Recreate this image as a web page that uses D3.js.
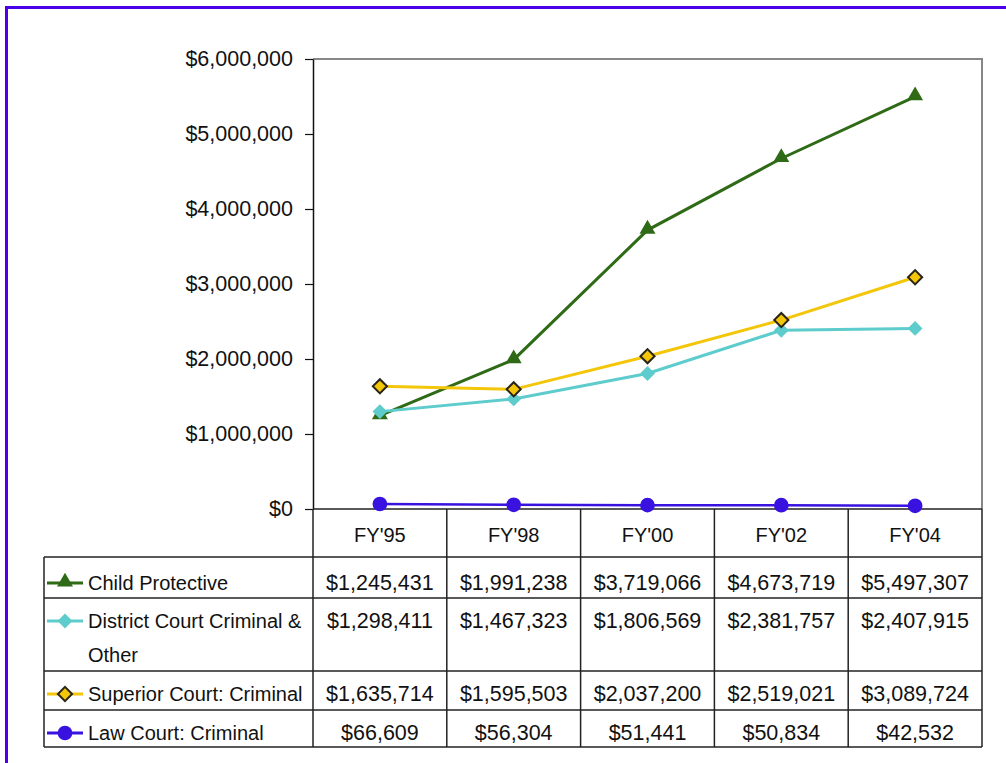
<!DOCTYPE html>
<html>
<head>
<meta charset="utf-8">
<script src="https://cdn.jsdelivr.net/npm/d3@7"></script>
<style>
  body { margin: 0; background: #fff; }
  svg { display: block; font-family: "Liberation Sans", Arial, sans-serif; }
</style>
</head>
<body>
<div id="chart"></div>
<script>
const years = ["FY'95", "FY'98", "FY'00", "FY'02", "FY'04"];
const childProtective = [1245431, 1991238, 3719066, 4673719, 5497307];
const districtCourt = [1298411, 1467323, 1806569, 2381757, 2407915];
const superiorCourt = [1635714, 1595503, 2037200, 2519021, 3089724];
const lawCourt = [66609, 56304, 51441, 50834, 42532];
const yTicks = [0, 1000000, 2000000, 3000000, 4000000, 5000000, 6000000];

const series = [
  { name: ["Child Protective"], values: childProtective, color: "#2f6a16", marker: "triangle" },
  { name: ["District Court Criminal &", "Other"], values: districtCourt, color: "#5ecccc", marker: "diamond" },
  { name: ["Superior Court: Criminal"], values: superiorCourt, color: "#f3c60a", marker: "diamondOutline" },
  { name: ["Law Court: Criminal"], values: lawCourt, color: "#3a12e0", marker: "circle" }
];

const W = 1006, H = 763;
const plot = { left: 313, right: 982, top: 59, bottom: 509 };
const tableLeft = 44;
const headerBottom = 557;
const rowBounds = [[557, 598], [598, 671], [671, 710], [710, 747]];
const numFont = "21.5px", wordFont = "20px";

const svg = d3.select("#chart").append("svg")
    .attr("width", W)
    .attr("height", H);

// purple frame (right/bottom edges fall outside the picture)
svg.append("rect")
    .attr("x", 6.5).attr("y", 7.5)
    .attr("width", W + 20).attr("height", H + 20)
    .attr("fill", "none")
    .attr("stroke", "#4a00e8")
    .attr("stroke-width", 3);

const x = d3.scaleBand()
    .domain(years)
    .range([plot.left, plot.right])
    .paddingInner(0).paddingOuter(0);

const y = d3.scaleLinear()
    .domain([0, 6000000])
    .range([plot.bottom, plot.top]);

// plot frame: grey top + right
svg.append("path")
    .attr("d", `M${plot.left},${plot.top}H${plot.right}V${plot.bottom}`)
    .attr("fill", "none")
    .attr("stroke", "#878787")
    .attr("stroke-width", 2);

// y axis
const yAxis = svg.append("g")
    .attr("transform", `translate(${plot.left},0)`)
    .call(d3.axisLeft(y)
      .tickValues(yTicks)
      .tickSize(8)
      .tickSizeOuter(0)
      .tickPadding(12)
      .tickFormat(d => d3.format("$,")(d)));
yAxis.select(".domain").attr("stroke", "#111").attr("stroke-width", 1.5);
yAxis.selectAll(".tick line").attr("stroke", "#111").attr("stroke-width", 1.2);
yAxis.selectAll(".tick text")
    .attr("fill", "#111")
    .style("font-size", numFont)
    .style("font-family", "'Liberation Sans', Arial, sans-serif");

// table grid
const grid = svg.append("g")
    .attr("stroke", "#222")
    .attr("stroke-width", 1.5)
    .attr("fill", "none");

// $0 baseline across plot
grid.append("line")
    .attr("x1", plot.left).attr("x2", plot.right)
    .attr("y1", plot.bottom).attr("y2", plot.bottom);
// row separators
[headerBottom].concat(rowBounds.map(r => r[1])).forEach(yy => {
  grid.append("line")
      .attr("x1", tableLeft).attr("x2", plot.right)
      .attr("y1", yy).attr("y2", yy);
});
// left border of legend column
grid.append("line")
    .attr("x1", tableLeft).attr("x2", tableLeft)
    .attr("y1", headerBottom).attr("y2", rowBounds[3][1]);
// column dividers
years.forEach(yr => {
  grid.append("line")
      .attr("x1", x(yr)).attr("x2", x(yr))
      .attr("y1", plot.bottom).attr("y2", rowBounds[3][1]);
});
grid.append("line")
    .attr("x1", plot.right).attr("x2", plot.right)
    .attr("y1", plot.bottom).attr("y2", rowBounds[3][1]);

// header
svg.append("g").selectAll("text")
  .data(years)
  .join("text")
    .attr("x", d => x(d) + x.bandwidth() / 2)
    .attr("y", plot.bottom + 33)
    .attr("text-anchor", "middle")
    .attr("fill", "#111")
    .style("font-size", wordFont)
    .text(d => d);

// marker drawing
const sym = {
  triangle: d3.symbol(d3.symbolTriangle, 110),
  diamond: d3.symbol(d3.symbolSquare, 110),
  diamondOutline: d3.symbol(d3.symbolSquare, 100),
  circle: d3.symbol(d3.symbolCircle, 170)
};
function drawMarker(g, s) {
  const p = g.append("path").attr("d", sym[s.marker]());
  if (s.marker === "diamondOutline") {
    p.attr("fill", s.color).attr("stroke", "#2a2418").attr("stroke-width", 2);
  } else {
    p.attr("fill", s.color);
  }
  if (s.marker === "triangle") p.attr("transform", "translate(0,-1)");
  if (s.marker.startsWith("diamond")) p.attr("transform", "rotate(45)");
  return p;
}

const line = d3.line()
    .x((d, i) => x(years[i]) + x.bandwidth() / 2)
    .y(d => y(d));

series.forEach((s, si) => {
  // series line
  svg.append("path")
      .datum(s.values)
      .attr("fill", "none")
      .attr("stroke", s.color)
      .attr("stroke-width", s.marker === "circle" ? 2.5 : 3)
      .attr("d", line);

  s.values.forEach((v, i) => {
    const g = svg.append("g")
        .attr("transform", `translate(${x(years[i]) + x.bandwidth() / 2},${y(v)})`);
    drawMarker(g, s);
  });

  // table row
  const [top] = rowBounds[si];
  const base = top + (si === 0 ? 33 : 30);

  const lg = svg.append("g").attr("transform", `translate(0,${base - 7})`);
  lg.append("line")
      .attr("x1", 47).attr("x2", 83)
      .attr("y1", 0).attr("y2", 0)
      .attr("stroke", s.color)
      .attr("stroke-width", 3);
  const mg = lg.append("g").attr("transform", "translate(65,0)");
  drawMarker(mg, s);

  s.name.forEach((nm, k) => {
    svg.append("text")
        .attr("x", 88)
        .attr("y", base + k * 34)
        .attr("fill", "#111")
        .style("font-size", wordFont)
        .text(nm);
  });

  svg.append("g").selectAll("text")
    .data(s.values)
    .join("text")
      .attr("x", (d, i) => x(years[i]) + x.bandwidth() / 2)
      .attr("y", base)
      .attr("text-anchor", "middle")
      .attr("fill", "#111")
      .style("font-size", numFont)
      .text(d => d3.format("$,")(d));
});
</script>
</body>
</html>
